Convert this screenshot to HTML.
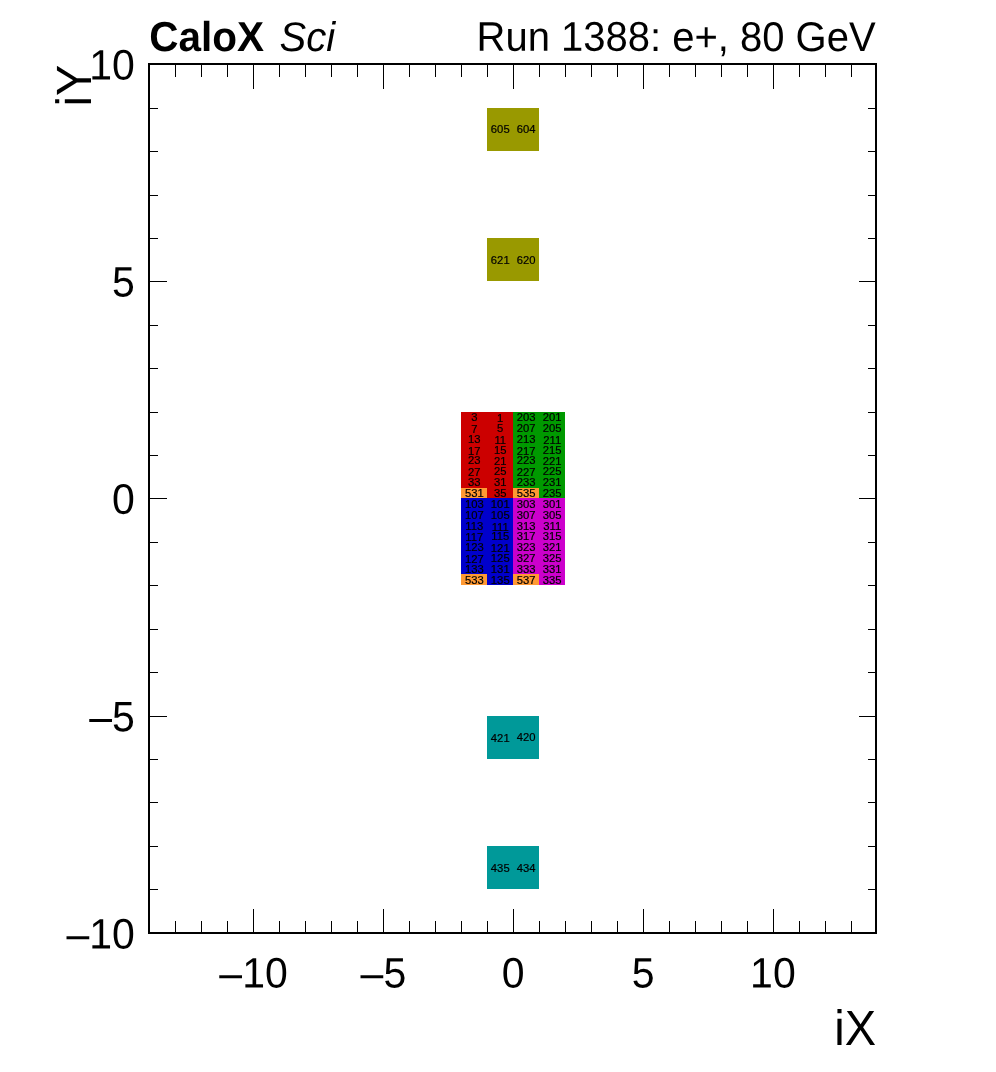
<!DOCTYPE html>
<html lang="en"><head><meta charset="utf-8"><title>CaloX Sci - Run 1388: e+, 80 GeV</title>
<style>
html,body{margin:0;padding:0;background:#fff;}
body{width:996px;height:1072px;overflow:hidden;}
svg{display:block;}
text{font-family:"Liberation Sans",sans-serif;fill:#000;}
.lab{font-size:40px;}
.ttl{font-size:47px;}
.hd{font-size:40px;}
.c{font-size:11.25px;text-anchor:middle;stroke:#000;stroke-width:0.2px;}
</style></head><body>
<svg width="996" height="1072" viewBox="0 0 996 1072">
<rect x="0" y="0" width="996" height="1072" fill="#fff"/>
<g shape-rendering="crispEdges">
<rect x="461" y="412" width="26" height="11" fill="#cc0000"/>
<rect x="487" y="412" width="26" height="11" fill="#cc0000"/>
<rect x="513" y="412" width="26" height="11" fill="#009900"/>
<rect x="539" y="412" width="26" height="11" fill="#009900"/>
<rect x="461" y="423" width="26" height="10" fill="#cc0000"/>
<rect x="487" y="423" width="26" height="10" fill="#cc0000"/>
<rect x="513" y="423" width="26" height="10" fill="#009900"/>
<rect x="539" y="423" width="26" height="10" fill="#009900"/>
<rect x="461" y="433" width="26" height="11" fill="#cc0000"/>
<rect x="487" y="433" width="26" height="11" fill="#cc0000"/>
<rect x="513" y="433" width="26" height="11" fill="#009900"/>
<rect x="539" y="433" width="26" height="11" fill="#009900"/>
<rect x="461" y="444" width="26" height="11" fill="#cc0000"/>
<rect x="487" y="444" width="26" height="11" fill="#cc0000"/>
<rect x="513" y="444" width="26" height="11" fill="#009900"/>
<rect x="539" y="444" width="26" height="11" fill="#009900"/>
<rect x="461" y="455" width="26" height="11" fill="#cc0000"/>
<rect x="487" y="455" width="26" height="11" fill="#cc0000"/>
<rect x="513" y="455" width="26" height="11" fill="#009900"/>
<rect x="539" y="455" width="26" height="11" fill="#009900"/>
<rect x="461" y="466" width="26" height="11" fill="#cc0000"/>
<rect x="487" y="466" width="26" height="11" fill="#cc0000"/>
<rect x="513" y="466" width="26" height="11" fill="#009900"/>
<rect x="539" y="466" width="26" height="11" fill="#009900"/>
<rect x="461" y="477" width="26" height="11" fill="#cc0000"/>
<rect x="487" y="477" width="26" height="11" fill="#cc0000"/>
<rect x="513" y="477" width="26" height="11" fill="#009900"/>
<rect x="539" y="477" width="26" height="11" fill="#009900"/>
<rect x="461" y="488" width="26" height="10" fill="#ff9933"/>
<rect x="487" y="488" width="26" height="10" fill="#cc0000"/>
<rect x="513" y="488" width="26" height="10" fill="#ff9933"/>
<rect x="539" y="488" width="26" height="10" fill="#009900"/>
<rect x="461" y="498" width="26" height="11" fill="#0000cc"/>
<rect x="487" y="498" width="26" height="11" fill="#0000cc"/>
<rect x="513" y="498" width="26" height="11" fill="#cc00cc"/>
<rect x="539" y="498" width="26" height="11" fill="#cc00cc"/>
<rect x="461" y="509" width="26" height="11" fill="#0000cc"/>
<rect x="487" y="509" width="26" height="11" fill="#0000cc"/>
<rect x="513" y="509" width="26" height="11" fill="#cc00cc"/>
<rect x="539" y="509" width="26" height="11" fill="#cc00cc"/>
<rect x="461" y="520" width="26" height="11" fill="#0000cc"/>
<rect x="487" y="520" width="26" height="11" fill="#0000cc"/>
<rect x="513" y="520" width="26" height="11" fill="#cc00cc"/>
<rect x="539" y="520" width="26" height="11" fill="#cc00cc"/>
<rect x="461" y="531" width="26" height="11" fill="#0000cc"/>
<rect x="487" y="531" width="26" height="11" fill="#0000cc"/>
<rect x="513" y="531" width="26" height="11" fill="#cc00cc"/>
<rect x="539" y="531" width="26" height="11" fill="#cc00cc"/>
<rect x="461" y="542" width="26" height="11" fill="#0000cc"/>
<rect x="487" y="542" width="26" height="11" fill="#0000cc"/>
<rect x="513" y="542" width="26" height="11" fill="#cc00cc"/>
<rect x="539" y="542" width="26" height="11" fill="#cc00cc"/>
<rect x="461" y="553" width="26" height="11" fill="#0000cc"/>
<rect x="487" y="553" width="26" height="11" fill="#0000cc"/>
<rect x="513" y="553" width="26" height="11" fill="#cc00cc"/>
<rect x="539" y="553" width="26" height="11" fill="#cc00cc"/>
<rect x="461" y="564" width="26" height="10" fill="#0000cc"/>
<rect x="487" y="564" width="26" height="10" fill="#0000cc"/>
<rect x="513" y="564" width="26" height="10" fill="#cc00cc"/>
<rect x="539" y="564" width="26" height="10" fill="#cc00cc"/>
<rect x="461" y="574" width="26" height="11" fill="#ff9933"/>
<rect x="487" y="574" width="26" height="11" fill="#0000cc"/>
<rect x="513" y="574" width="26" height="11" fill="#ff9933"/>
<rect x="539" y="574" width="26" height="11" fill="#cc00cc"/>
<rect x="487" y="108" width="26" height="43" fill="#999900"/>
<rect x="513" y="108" width="26" height="43" fill="#999900"/>
<rect x="487" y="238" width="26" height="43" fill="#999900"/>
<rect x="513" y="238" width="26" height="43" fill="#999900"/>
<rect x="487" y="716" width="26" height="43" fill="#009999"/>
<rect x="513" y="716" width="26" height="43" fill="#009999"/>
<rect x="487" y="846" width="26" height="43" fill="#009999"/>
<rect x="513" y="846" width="26" height="43" fill="#009999"/>
</g>
<g class="c" transform="scale(1 0.93)">
<text x="474.29" y="452.53">3</text>
<text x="500.26" y="453.6">1</text>
<text x="526.22" y="452.53">203</text>
<text x="552.19" y="452.53">201</text>
<text x="474.29" y="465.43">7</text>
<text x="500.26" y="464.35">5</text>
<text x="526.22" y="464.35">207</text>
<text x="552.19" y="464.35">205</text>
<text x="474.29" y="476.18">13</text>
<text x="500.26" y="477.26">11</text>
<text x="526.22" y="476.18">213</text>
<text x="552.19" y="477.26">211</text>
<text x="474.29" y="489.09">17</text>
<text x="500.26" y="488.01">15</text>
<text x="526.22" y="489.09">217</text>
<text x="552.19" y="488.01">215</text>
<text x="474.29" y="498.76">23</text>
<text x="500.26" y="499.84">21</text>
<text x="526.22" y="498.76">223</text>
<text x="552.19" y="499.84">221</text>
<text x="474.29" y="511.67">27</text>
<text x="500.26" y="510.59">25</text>
<text x="526.22" y="511.67">227</text>
<text x="552.19" y="510.59">225</text>
<text x="474.29" y="522.42">33</text>
<text x="500.26" y="522.42">31</text>
<text x="526.22" y="522.42">233</text>
<text x="552.19" y="522.42">231</text>
<text x="474.29" y="534.25">531</text>
<text x="500.26" y="534.25">35</text>
<text x="526.22" y="534.25">535</text>
<text x="552.19" y="534.25">235</text>
<text x="474.29" y="546.08">103</text>
<text x="500.26" y="546.08">101</text>
<text x="526.22" y="546.08">303</text>
<text x="552.19" y="546.08">301</text>
<text x="474.29" y="557.9">107</text>
<text x="500.26" y="557.9">105</text>
<text x="526.22" y="557.9">307</text>
<text x="552.19" y="557.9">305</text>
<text x="474.29" y="569.73">113</text>
<text x="500.26" y="570.81">111</text>
<text x="526.22" y="569.73">313</text>
<text x="552.19" y="569.73">311</text>
<text x="474.29" y="581.56">117</text>
<text x="500.26" y="580.48">115</text>
<text x="526.22" y="580.48">317</text>
<text x="552.19" y="580.48">315</text>
<text x="474.29" y="592.31">123</text>
<text x="500.26" y="593.39">121</text>
<text x="526.22" y="592.31">323</text>
<text x="552.19" y="592.31">321</text>
<text x="474.29" y="605.22">127</text>
<text x="500.26" y="604.14">125</text>
<text x="526.22" y="604.14">327</text>
<text x="552.19" y="604.14">325</text>
<text x="474.29" y="615.97">133</text>
<text x="500.26" y="615.97">131</text>
<text x="526.22" y="615.97">333</text>
<text x="552.19" y="615.97">331</text>
<text x="474.29" y="627.8">533</text>
<text x="500.26" y="627.8">135</text>
<text x="526.22" y="627.8">537</text>
<text x="552.19" y="627.8">335</text>
<text x="500.26" y="142.85">605</text>
<text x="526.22" y="142.85">604</text>
<text x="500.26" y="283.71">621</text>
<text x="526.22" y="283.71">620</text>
<text x="500.26" y="797.69">421</text>
<text x="526.22" y="796.61">420</text>
<text x="500.26" y="937.47">435</text>
<text x="526.22" y="937.47">434</text>
</g>
<g shape-rendering="crispEdges" fill="#000">
<rect x="148" y="63" width="729" height="2"/>
<rect x="148" y="932" width="729" height="2"/>
<rect x="148" y="63" width="2" height="871"/>
<rect x="875" y="63" width="2" height="871"/>
<rect x="175" y="921" width="1" height="12"/>
<rect x="175" y="64" width="1" height="13"/>
<rect x="201" y="921" width="1" height="12"/>
<rect x="201" y="64" width="1" height="13"/>
<rect x="227" y="921" width="1" height="12"/>
<rect x="227" y="64" width="1" height="13"/>
<rect x="253" y="909" width="1" height="24"/>
<rect x="253" y="64" width="1" height="25"/>
<rect x="279" y="921" width="1" height="12"/>
<rect x="279" y="64" width="1" height="13"/>
<rect x="305" y="921" width="1" height="12"/>
<rect x="305" y="64" width="1" height="13"/>
<rect x="331" y="921" width="1" height="12"/>
<rect x="331" y="64" width="1" height="13"/>
<rect x="357" y="921" width="1" height="12"/>
<rect x="357" y="64" width="1" height="13"/>
<rect x="383" y="909" width="1" height="24"/>
<rect x="383" y="64" width="1" height="25"/>
<rect x="409" y="921" width="1" height="12"/>
<rect x="409" y="64" width="1" height="13"/>
<rect x="435" y="921" width="1" height="12"/>
<rect x="435" y="64" width="1" height="13"/>
<rect x="461" y="921" width="1" height="12"/>
<rect x="461" y="64" width="1" height="13"/>
<rect x="487" y="921" width="1" height="12"/>
<rect x="487" y="64" width="1" height="13"/>
<rect x="513" y="909" width="1" height="24"/>
<rect x="513" y="64" width="1" height="25"/>
<rect x="539" y="921" width="1" height="12"/>
<rect x="539" y="64" width="1" height="13"/>
<rect x="565" y="921" width="1" height="12"/>
<rect x="565" y="64" width="1" height="13"/>
<rect x="591" y="921" width="1" height="12"/>
<rect x="591" y="64" width="1" height="13"/>
<rect x="617" y="921" width="1" height="12"/>
<rect x="617" y="64" width="1" height="13"/>
<rect x="643" y="909" width="1" height="24"/>
<rect x="643" y="64" width="1" height="25"/>
<rect x="669" y="921" width="1" height="12"/>
<rect x="669" y="64" width="1" height="13"/>
<rect x="695" y="921" width="1" height="12"/>
<rect x="695" y="64" width="1" height="13"/>
<rect x="721" y="921" width="1" height="12"/>
<rect x="721" y="64" width="1" height="13"/>
<rect x="747" y="921" width="1" height="12"/>
<rect x="747" y="64" width="1" height="13"/>
<rect x="773" y="909" width="1" height="24"/>
<rect x="773" y="64" width="1" height="25"/>
<rect x="799" y="921" width="1" height="12"/>
<rect x="799" y="64" width="1" height="13"/>
<rect x="825" y="921" width="1" height="12"/>
<rect x="825" y="64" width="1" height="13"/>
<rect x="851" y="921" width="1" height="12"/>
<rect x="851" y="64" width="1" height="13"/>
<rect x="149" y="889" width="9" height="1"/>
<rect x="868" y="889" width="8" height="1"/>
<rect x="149" y="846" width="9" height="1"/>
<rect x="868" y="846" width="8" height="1"/>
<rect x="149" y="802" width="9" height="1"/>
<rect x="868" y="802" width="8" height="1"/>
<rect x="149" y="759" width="9" height="1"/>
<rect x="868" y="759" width="8" height="1"/>
<rect x="149" y="716" width="18" height="1"/>
<rect x="859" y="716" width="17" height="1"/>
<rect x="149" y="672" width="9" height="1"/>
<rect x="868" y="672" width="8" height="1"/>
<rect x="149" y="629" width="9" height="1"/>
<rect x="868" y="629" width="8" height="1"/>
<rect x="149" y="585" width="9" height="1"/>
<rect x="868" y="585" width="8" height="1"/>
<rect x="149" y="542" width="9" height="1"/>
<rect x="868" y="542" width="8" height="1"/>
<rect x="149" y="498" width="18" height="1"/>
<rect x="859" y="498" width="17" height="1"/>
<rect x="149" y="455" width="9" height="1"/>
<rect x="868" y="455" width="8" height="1"/>
<rect x="149" y="412" width="9" height="1"/>
<rect x="868" y="412" width="8" height="1"/>
<rect x="149" y="368" width="9" height="1"/>
<rect x="868" y="368" width="8" height="1"/>
<rect x="149" y="325" width="9" height="1"/>
<rect x="868" y="325" width="8" height="1"/>
<rect x="149" y="281" width="18" height="1"/>
<rect x="859" y="281" width="17" height="1"/>
<rect x="149" y="238" width="9" height="1"/>
<rect x="868" y="238" width="8" height="1"/>
<rect x="149" y="195" width="9" height="1"/>
<rect x="868" y="195" width="8" height="1"/>
<rect x="149" y="151" width="9" height="1"/>
<rect x="868" y="151" width="8" height="1"/>
<rect x="149" y="108" width="9" height="1"/>
<rect x="868" y="108" width="8" height="1"/>
</g>
<g class="lab">
<text transform="translate(253.57 987.42) rotate(0.03) scale(1.025 1.065)" text-anchor="middle">–10</text>
<text transform="translate(383.4 987.42) rotate(0.03) scale(1.025 1.065)" text-anchor="middle">–5</text>
<text transform="translate(513.24 987.42) rotate(0.03) scale(1.025 1.065)" text-anchor="middle">0</text>
<text transform="translate(643.08 987.42) rotate(0.03) scale(1.025 1.065)" text-anchor="middle">5</text>
<text transform="translate(772.91 987.42) rotate(0.03) scale(1.025 1.065)" text-anchor="middle">10</text>
<text transform="translate(134.8 948.54) rotate(0.03) scale(1.025 1.065)" text-anchor="end">–10</text>
<text transform="translate(134.8 731.36) rotate(0.03) scale(1.025 1.065)" text-anchor="end">–5</text>
<text transform="translate(134.8 513.68) rotate(0.03) scale(1.025 1.065)" text-anchor="end">0</text>
<text transform="translate(134.8 296.6) rotate(0.03) scale(1.025 1.065)" text-anchor="end">5</text>
<text transform="translate(134.8 79.52) rotate(0.03) scale(1.025 1.065)" text-anchor="end">10</text>
</g>
<text class="ttl" transform="translate(876 1045) rotate(0.03) scale(1 1.055)" text-anchor="end">iX</text>
<text class="ttl" transform="translate(91 64.6) rotate(-89.97) scale(1 1.055)" text-anchor="end">iY</text>
<text class="hd" transform="translate(149.3 51) rotate(0.03) scale(1 1.035)"><tspan font-weight="bold" font-size="40.5px">CaloX</tspan> <tspan font-style="italic" dx="4.3">Sci</tspan></text>
<text class="hd" transform="translate(875.6 51) rotate(0.03) scale(1 1.035)" text-anchor="end">Run 1388: e+, 80 GeV</text>
</svg>
</body></html>
